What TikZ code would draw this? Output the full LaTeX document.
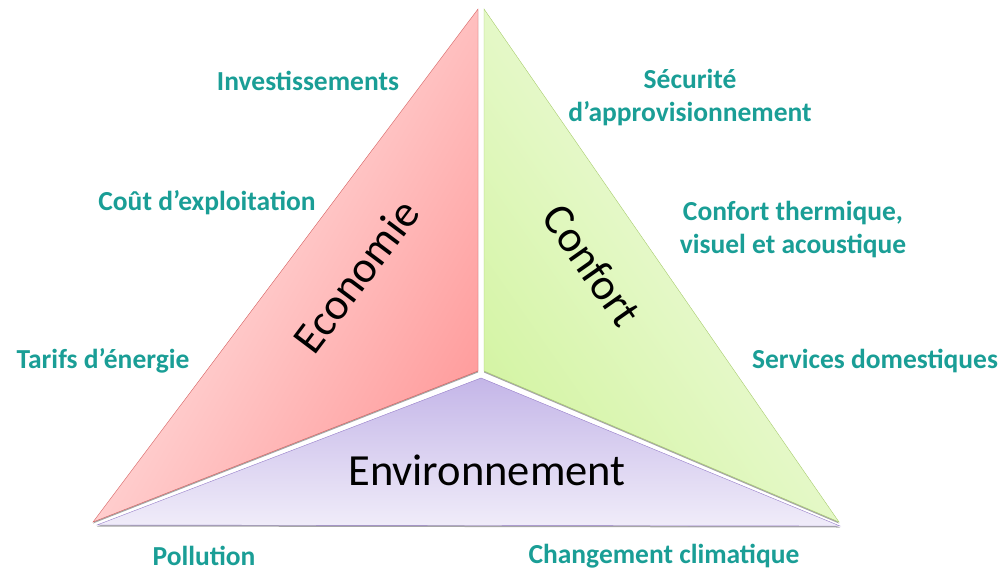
\documentclass[tikz,border=0pt]{standalone}
\usepackage{fontspec}
\setmainfont{Carlito}
\usetikzlibrary{shadows}
\definecolor{sarcelle}{RGB}{26,158,150}
\definecolor{rougeclair}{RGB}{255,238,238}
\definecolor{rougemilieu}{RGB}{255,214,214}
\definecolor{rougefonce}{RGB}{255,158,158}
\definecolor{rougebord}{RGB}{214,96,96}
\definecolor{vertclair}{RGB}{245,253,234}
\definecolor{vertmilieu}{RGB}{230,250,200}
\definecolor{vertfonce}{RGB}{212,244,164}
\definecolor{vertbord}{RGB}{168,204,110}
\definecolor{violetclair}{RGB}{240,236,249}
\definecolor{violetfonce}{RGB}{196,182,232}
\definecolor{violetbord}{RGB}{150,125,200}
\begin{document}
\begin{tikzpicture}[x=1pt,y=-1pt,
  critere/.style={text=sarcelle,align=center,
                  font=\bfseries\fontsize{27.5}{33}\selectfont},
  pole/.style={font=\fontsize{44.5}{48}\selectfont},
  ombre/.style={drop shadow={opacity=0.7,shadow xshift=0pt,shadow yshift=-1.5pt}}]
\useasboundingbox (0,0) rectangle (1003,572);
%
% Environnement (bas)
\shade [top color=violetfonce, bottom color=violetclair, draw=violetbord, ombre]
      (481,378) -- (97,525) -- (840,526) -- cycle;
%
% Economie (gauche)
\shade [left color=rougeclair, middle color=rougemilieu, right color=rougefonce,
        shading angle=60, draw=rougebord, ombre]
      (478,9) -- (93,522) -- (478,371) -- cycle;
%
% Confort (droite)
\shade [left color=vertfonce, middle color=vertmilieu, right color=vertclair,
        shading angle=125, draw=vertbord, ombre]
      (484,9) -- (484,371) -- (839,522) -- cycle;
%
% Poles
\node [pole, rotate=53]  (economie)      at (356,276) {Economie};
\node [pole, rotate=-55] (confort)       at (592,265) {Confort};
\node [pole]             (environnement) at (487,470) {Environnement};
%
% Criteres
\node [critere] (investissements) at (308,81)  {Investissements};
\node [critere] (cout)            at (207,203) {Coût d’exploitation};
\node [critere] (tarifs)          at (103,361) {Tarifs d’énergie};
\node [critere] (securite)        at (690,98)  {Sécurité\\d’approvisionnement};
\node [critere] (thermique)       at (793,230) {Confort thermique,\\visuel et acoustique};
\node [critere] (services)        at (875,361) {Services domestiques};
\node [critere] (pollution)       at (204,556) {Pollution};
\node [critere] (climat)          at (664,556) {Changement climatique};
%
\end{tikzpicture}
\end{document}
